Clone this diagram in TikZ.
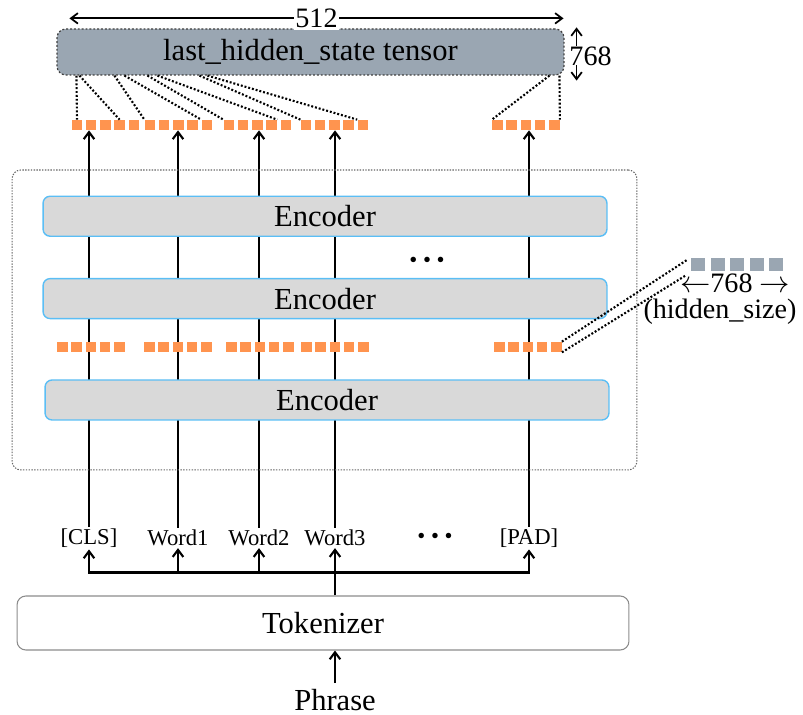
\documentclass[tikz,border=0pt]{standalone}
\usepackage{fontspec}
\setmainfont{Liberation Serif}
\usepackage{tikz}
\usetikzlibrary{arrows.meta,positioning,calc}
\definecolor{StateColor}{HTML}{9AA6B2}
\definecolor{EncFill}{HTML}{D9D9D9}
\definecolor{EncBorder}{HTML}{5BBEF5}
\definecolor{VecColor}{HTML}{FF944F}
\definecolor{FrameGrey}{HTML}{8C8C8C}

\begin{document}
\begin{tikzpicture}[x=0.02cm,y=0.02cm,
  big/.style={font=\fontsize{17.4}{20}\selectfont},
  dimtext/.style={font=\fontsize{16}{19}\selectfont},
  toktext/.style={font=\fontsize{12.9}{15}\selectfont,inner sep=1pt},
  encoder/.style={draw=EncBorder,line width=0.8pt,rounded corners=4pt,fill=EncFill,minimum width=11.28cm,minimum height=0.8cm,big},
  cell/.style={fill=VecColor,inner sep=0pt,minimum width=0.21cm,minimum height=0.2cm},
  gcell/.style={fill=StateColor,inner sep=0pt,minimum width=0.28cm,minimum height=0.26cm},
  flow/.style={line width=1.2pt,-{Straight Barb[length=4pt,width=6pt]}},
  dots/.style={line width=1.2pt,dash pattern=on 1.1pt off 1.1pt},
  dim/.style={line width=1pt,{Straight Barb[length=4pt,width=6pt]}-{Straight Barb[length=4pt,width=6pt]}}]
\useasboundingbox (0,0) rectangle (803,715);

% output tensor and its sizes
\node[draw=black!75,dots,line width=0.7pt,rounded corners=5pt,fill=StateColor,minimum width=10.14cm,minimum height=0.92cm,big] (state) at (310.5,663) {last\_hidden\_state tensor};
\draw[dim] ($(state.north west)+(13,10)$) -- ($(state.north east)+(-1,10)$) node[midway,fill=white,dimtext,inner sep=1pt] (width) {512};
\draw[dim] ($(state.north east)+(12,1)$) -- ($(state.south east)+(12,-5)$);
\node[dimtext,fill=white,inner sep=0pt] (depth) at ($(state.east)+(26,-4)$) {768};

% output vectors
\foreach \g/\sx in {1/77,2/150,3/229,4/306,5/497.5}
  \foreach \i in {1,...,5}
    \node[cell] (top\g-\i) at ({\sx+(\i-1)*14.2},590) {};
\foreach \dx/\sq/\an in {20/top1-1/north,23/top1-4/north,58/top2-1/north west,68/top2-5/north west,91/top3-1/north west,101/top3-4/north east,143/top4-1/north west,151/top4-5/north west,493/top5-1/north west,503/top5-5/north east}
  \draw[dots] ($(state.south west)+(\dx,0)$) -- (\sq.\an);

% tokens
\node[toktext] (cls) at (89,177) {[CLS]};
\node[toktext] (w1) at (178,177) {Word1};
\node[toktext] (w2) at (259,177) {Word2};
\node[toktext] (w3) at (335,177) {Word3};
\node[toktext] (tokdots) at (435,177) {• • •};
\node[toktext] (pad) at (529,177) {[PAD]};
\foreach \t/\g in {cls/1,w1/2,w2/3,w3/4,pad/5}
  \draw[flow] (\t.north) -- (\t.north |- top\g-3.south);

% encoder stack
\node[draw=black!60,line width=0.6pt,dash pattern=on 0.8pt off 0.8pt,rounded corners=5pt,minimum width=12.5cm,minimum height=6cm] (stack) at (324.5,395) {};
\node[encoder] (enc3) at (327,315) {Encoder};
\node[encoder,above=1.2cm of enc3,xshift=-0.04cm] (enc2) {Encoder};
\node[encoder,above=0.82cm of enc2] (enc1) {Encoder};
\node[font=\fontsize{13}{15}\selectfont] (encdots) at (427,453) {• • •};
\foreach \g/\sx in {1/62.5,2/149.5,3/231.5,4/306.5,5/499.5}
  \foreach \i in {1,...,5}
    \node[cell] (mid\g-\i) at ({\sx+(\i-1)*14.2},368) {};

% one hidden vector
\foreach \i in {1,...,5}
  \node[gcell] (hid-\i) at ({698+(\i-1)*19.5},450) {};
\node[dimtext,inner sep=0pt] (hidlen) at (735,432) {$\leftarrow$768 $\rightarrow$};
\node[dimtext,inner sep=0pt] (hidname) at (720,403) {(hidden\_size)};
\draw[dots] (mid5-5.north east) -- ($(hid-1.north west)+(-4,-2)$);
\draw[dots] (mid5-5.south east) -- ($(hid-1.south west)+(-4,-3)$);

% tokenizer
\node[draw=FrameGrey,line width=0.6pt,rounded corners=5pt,fill=white,minimum width=12.24cm,minimum height=1.08cm,big] (tok) at (323,92) {Tokenizer};
\draw[line width=1.2pt] (w3 |- tok.north) -- ++(0,23) coordinate (split);
\foreach \t in {cls,w1,w2,w3,pad}
  \draw[flow] (split) -| (\t.south);
\node[big] (phrase) at (335,15) {Phrase};
\draw[flow] (phrase) -- (phrase |- tok.south);
\end{tikzpicture}
\end{document}
